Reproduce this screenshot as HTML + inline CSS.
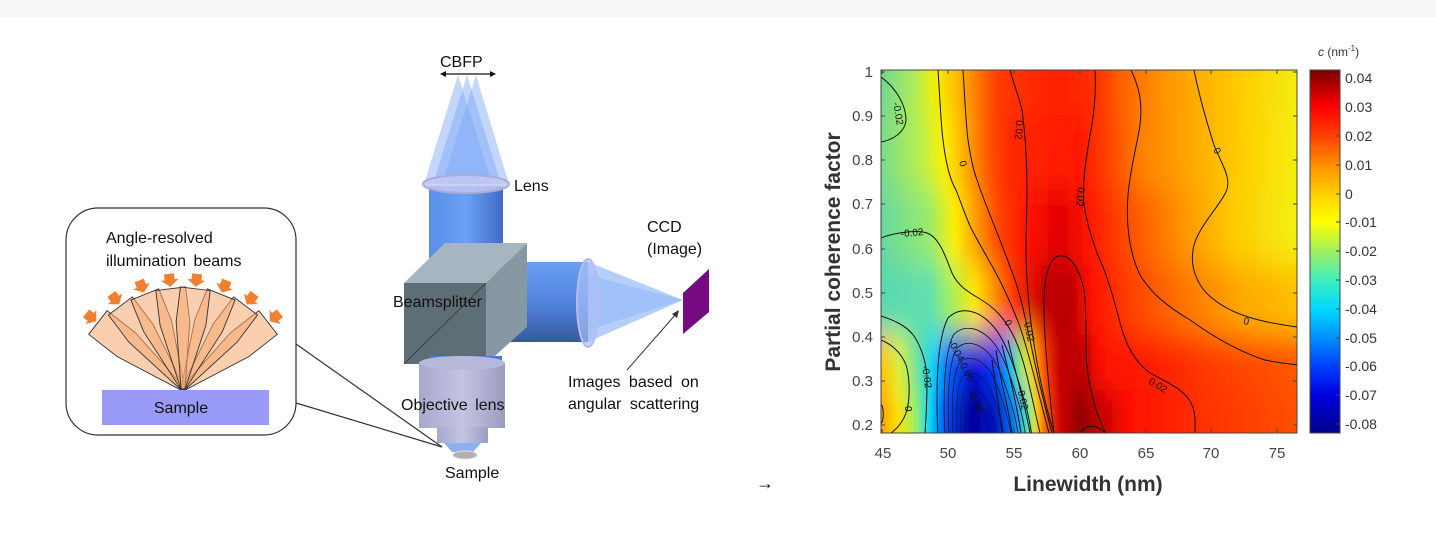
<!DOCTYPE html>
<html><head><meta charset="utf-8"><style>
html,body{margin:0;padding:0;background:#fff;width:1436px;height:542px;overflow:hidden}
svg{display:block;font-family:"Liberation Sans",Arial,sans-serif}
</style></head><body>
<svg width="1436" height="542" viewBox="0 0 1436 542" xmlns="http://www.w3.org/2000/svg">
<defs>
<linearGradient id="cb" x1="0" y1="0" x2="0" y2="1">
<stop offset="0" stop-color="#800000"/><stop offset=".022" stop-color="#960000"/><stop offset=".102" stop-color="#ff0000"/>
<stop offset=".182" stop-color="#ff4000"/><stop offset=".262" stop-color="#ff9000"/><stop offset=".342" stop-color="#ffd000"/>
<stop offset=".419" stop-color="#ffff00"/><stop offset=".499" stop-color="#a0f060"/><stop offset=".579" stop-color="#40f0c0"/>
<stop offset=".658" stop-color="#00d8ff"/><stop offset=".738" stop-color="#0090ff"/><stop offset=".815" stop-color="#0040ff"/>
<stop offset=".895" stop-color="#0000e0"/><stop offset="1" stop-color="#000088"/></linearGradient>
<linearGradient id="bA" gradientUnits="userSpaceOnUse" x1="881" y1="0" x2="1296" y2="0">
<stop offset="0" stop-color="#70d890"/><stop offset=".082" stop-color="#b0ec58"/><stop offset=".13" stop-color="#f4f000"/><stop offset=".178" stop-color="#ffc000"/><stop offset=".238" stop-color="#ff7000"/><stop offset=".287" stop-color="#ff3800"/><stop offset=".43" stop-color="#ff2000"/><stop offset=".516" stop-color="#ff3000"/><stop offset=".578" stop-color="#ff6000"/><stop offset=".67" stop-color="#ff9000"/><stop offset=".77" stop-color="#ffb000"/><stop offset=".867" stop-color="#ffcc00"/><stop offset="1" stop-color="#f4ec10"/></linearGradient>
<linearGradient id="bB" gradientUnits="userSpaceOnUse" x1="881" y1="0" x2="1296" y2="0">
<stop offset="0" stop-color="#78dc88"/><stop offset=".094" stop-color="#b8ee50"/><stop offset=".154" stop-color="#fff000"/><stop offset=".2" stop-color="#ffb000"/><stop offset=".263" stop-color="#ff5000"/><stop offset=".31" stop-color="#ff2800"/><stop offset=".48" stop-color="#ff1800"/><stop offset=".554" stop-color="#ff4800"/><stop offset=".626" stop-color="#ff8000"/><stop offset=".77" stop-color="#ffb000"/><stop offset=".89" stop-color="#ffd400"/><stop offset="1" stop-color="#f4ee10"/></linearGradient>
<linearGradient id="bC" gradientUnits="userSpaceOnUse" x1="881" y1="0" x2="1296" y2="0">
<stop offset="0" stop-color="#68d8a0"/><stop offset=".118" stop-color="#98ec68"/><stop offset=".178" stop-color="#fff000"/><stop offset=".226" stop-color="#ffa000"/><stop offset=".287" stop-color="#ff4000"/><stop offset=".36" stop-color="#ff1000"/><stop offset=".43" stop-color="#e00000"/><stop offset=".504" stop-color="#ff1800"/><stop offset=".6" stop-color="#ff5000"/><stop offset=".72" stop-color="#ff9000"/><stop offset=".84" stop-color="#ffc800"/><stop offset="1" stop-color="#f4f010"/></linearGradient>
<linearGradient id="bD" gradientUnits="userSpaceOnUse" x1="881" y1="0" x2="1296" y2="0">
<stop offset="0" stop-color="#58d8b0"/><stop offset=".118" stop-color="#60e0b0"/><stop offset=".166" stop-color="#a0f060"/><stop offset=".226" stop-color="#ffe800"/><stop offset=".275" stop-color="#ff9000"/><stop offset=".323" stop-color="#ff3000"/><stop offset=".395" stop-color="#c00000"/><stop offset=".455" stop-color="#b80000"/><stop offset=".504" stop-color="#ff1000"/><stop offset=".6" stop-color="#ff4000"/><stop offset=".72" stop-color="#ff7000"/><stop offset=".867" stop-color="#ffa800"/><stop offset="1" stop-color="#ffc000"/></linearGradient>
<linearGradient id="bE" gradientUnits="userSpaceOnUse" x1="881" y1="0" x2="1296" y2="0">
<stop offset="0" stop-color="#ffc800"/><stop offset=".046" stop-color="#d8f040"/><stop offset=".094" stop-color="#60e0b0"/><stop offset=".13" stop-color="#00d0ff"/><stop offset=".166" stop-color="#0060ff"/><stop offset=".226" stop-color="#0010d0"/><stop offset=".275" stop-color="#0040ff"/><stop offset=".311" stop-color="#00c0ff"/><stop offset=".34" stop-color="#b0f050"/><stop offset=".364" stop-color="#ffd000"/><stop offset=".395" stop-color="#ff4000"/><stop offset=".43" stop-color="#c00000"/><stop offset=".49" stop-color="#c00000"/><stop offset=".528" stop-color="#ff1000"/><stop offset=".67" stop-color="#ff2000"/><stop offset=".82" stop-color="#ff4000"/><stop offset="1" stop-color="#ff5800"/></linearGradient>
<linearGradient id="bF" gradientUnits="userSpaceOnUse" x1="881" y1="0" x2="1296" y2="0">
<stop offset="0" stop-color="#ffa000"/><stop offset=".039" stop-color="#ffe000"/><stop offset=".082" stop-color="#a0f060"/><stop offset=".118" stop-color="#00d8ff"/><stop offset=".154" stop-color="#0050ff"/><stop offset=".214" stop-color="#000098"/><stop offset=".275" stop-color="#0010c0"/><stop offset=".323" stop-color="#0080ff"/><stop offset=".354" stop-color="#40f0c0"/><stop offset=".373" stop-color="#ffe000"/><stop offset=".395" stop-color="#ff6000"/><stop offset=".43" stop-color="#d00000"/><stop offset=".48" stop-color="#900000"/><stop offset=".528" stop-color="#c00000"/><stop offset=".6" stop-color="#ff1000"/><stop offset=".77" stop-color="#ff3000"/><stop offset="1" stop-color="#ff5000"/></linearGradient>
<filter id="bl" x="-10%" y="-10%" width="120%" height="120%"><feGaussianBlur stdDeviation="3 16"/></filter>
<clipPath id="pc"><rect x="881" y="70" width="416" height="363"/></clipPath>
<linearGradient id="cylV" x1="0" y1="0" x2="1" y2="0"><stop offset="0" stop-color="#5a8ee8"/><stop offset=".5" stop-color="#6aa0f4"/><stop offset="1" stop-color="#3f6cc4"/></linearGradient>
<linearGradient id="cylH" x1="0" y1="0" x2="0" y2="1"><stop offset="0" stop-color="#6aa0f4"/><stop offset=".5" stop-color="#5284de"/><stop offset="1" stop-color="#34599e"/></linearGradient>
<linearGradient id="obj" x1="0" y1="0" x2="1" y2="0"><stop offset="0" stop-color="#a8a8cc"/><stop offset=".5" stop-color="#c4c4e2"/><stop offset="1" stop-color="#9c9cc0"/></linearGradient>
</defs>

<rect x="0" y="0" width="1436" height="17" fill="#f7f7f7"/>

<!-- ===== LEFT DIAGRAM ===== -->
<rect x="66" y="208" width="230" height="227" rx="32" fill="#fff" stroke="#333" stroke-width="1.2"/>
<line x1="296" y1="344" x2="442" y2="447" stroke="#333" stroke-width="1.2"/>
<line x1="296" y1="403" x2="442" y2="447" stroke="#333" stroke-width="1.2"/>
<text x="106" y="243" font-size="16" fill="#111">Angle-resolved</text>
<text x="106" y="266" font-size="16" fill="#111" word-spacing="3">illumination beams</text>
<g transform="translate(183 389)" stroke="#333" stroke-width="0.9" fill="#f5a870" fill-opacity="0.55">
<g transform="rotate(-52)"><polygon points="-15,-108 15,-108 15,-72 2,0 -2,0 -15,-72"/><polygon points="-5,-123 5,-123 5,-117 9,-117 0,-110 -9,-117 -5,-117" fill="#f08030" fill-opacity="1" stroke="none"/></g>
<g transform="rotate(52)"><polygon points="-15,-108 15,-108 15,-72 2,0 -2,0 -15,-72"/><polygon points="-5,-123 5,-123 5,-117 9,-117 0,-110 -9,-117 -5,-117" fill="#f08030" fill-opacity="1" stroke="none"/></g>
<g transform="rotate(-37)"><polygon points="-15,-104 15,-104 15,-70 2,0 -2,0 -15,-70"/><polygon points="-5,-119 5,-119 5,-113 9,-113 0,-106 -9,-113 -5,-113" fill="#f08030" fill-opacity="1" stroke="none"/></g>
<g transform="rotate(37)"><polygon points="-15,-104 15,-104 15,-70 2,0 -2,0 -15,-70"/><polygon points="-5,-119 5,-119 5,-113 9,-113 0,-106 -9,-113 -5,-113" fill="#f08030" fill-opacity="1" stroke="none"/></g>
<g transform="rotate(-22)"><polygon points="-15,-102 15,-102 15,-68 2,0 -2,0 -15,-68"/><polygon points="-5,-117 5,-117 5,-111 9,-111 0,-104 -9,-111 -5,-111" fill="#f08030" fill-opacity="1" stroke="none"/></g>
<g transform="rotate(22)"><polygon points="-15,-102 15,-102 15,-68 2,0 -2,0 -15,-68"/><polygon points="-5,-117 5,-117 5,-111 9,-111 0,-104 -9,-111 -5,-111" fill="#f08030" fill-opacity="1" stroke="none"/></g>
<g transform="rotate(-7)"><polygon points="-15,-101 15,-101 15,-66 2,0 -2,0 -15,-66"/><polygon points="-5,-116 5,-116 5,-110 9,-110 0,-103 -9,-110 -5,-110" fill="#f08030" fill-opacity="1" stroke="none"/></g>
<g transform="rotate(7)"><polygon points="-15,-101 15,-101 15,-66 2,0 -2,0 -15,-66"/><polygon points="-5,-116 5,-116 5,-110 9,-110 0,-103 -9,-110 -5,-110" fill="#f08030" fill-opacity="1" stroke="none"/></g>
</g>
<rect x="102" y="390" width="167" height="35" fill="#9a9af8"/>
<text x="181" y="413" font-size="16" text-anchor="middle" fill="#111">Sample</text>

<!-- cones top -->
<g fill="#7aa6f6" fill-opacity="0.45">
<polygon points="458,75 424,184 492,184"/><polygon points="467,75 433,184 501,184"/><polygon points="476,75 442,184 509,184"/>
</g>
<text x="440" y="67" font-size="16" fill="#111">CBFP</text>
<line x1="444" y1="74" x2="492" y2="74" stroke="#111" stroke-width="1.2"/>
<polygon points="440,74 446,71 446,77" fill="#111"/><polygon points="496,74 490,71 490,77" fill="#111"/>
<!-- vertical cylinder -->
<rect x="429" y="186" width="74" height="86" fill="url(#cylV)"/>
<ellipse cx="466" cy="184" rx="43" ry="9" fill="#c4c8f2" stroke="#a8acd8" stroke-width="2" fill-opacity="0.85"/>
<text x="514" y="191" font-size="16" fill="#111">Lens</text>
<!-- horizontal cylinder -->
<rect x="503" y="262" width="85" height="80" fill="url(#cylH)"/>
<polygon points="588,262 683,300 588,342" fill="#7aa6f6" fill-opacity="0.55"/>
<polygon points="588,275 683,300 588,330" fill="#8cb4fa" fill-opacity="0.5"/>
<ellipse cx="588" cy="303" rx="11" ry="44" fill="#a8c0f8" stroke="#b8bce8" stroke-width="2" fill-opacity="0.7"/>
<polygon points="683,293 709,269 709,312 683,334" fill="#760a80"/>
<text x="647" y="232" font-size="16" fill="#111">CCD</text>
<text x="647" y="254" font-size="16" fill="#111">(Image)</text>
<line x1="627" y1="370" x2="676" y2="314" stroke="#333" stroke-width="1"/>
<polygon points="679,310 672,314 677,318" fill="#333"/>
<text x="568" y="387" font-size="16" fill="#111" word-spacing="4">Images based on</text>
<text x="568" y="409" font-size="16" fill="#111" word-spacing="4">angular scattering</text>
<!-- cube -->
<polygon points="404,283 486,283 527,243 445,243" fill="#a6b6c0"/>
<polygon points="486,283 527,243 527,327 486,364" fill="#8898a2"/>
<rect x="404" y="283" width="82" height="81" fill="#5e6e76"/>
<line x1="404" y1="364" x2="486" y2="283" stroke="#333" stroke-width="0.8"/>
<text x="393" y="307" font-size="16" fill="#111">Beamsplitter</text>
<!-- objective -->
<rect x="430" y="356" width="72" height="12" fill="#4a7ad8"/>
<rect x="419" y="362" width="86" height="66" fill="url(#obj)"/>
<ellipse cx="462" cy="363" rx="43" ry="7" fill="#b8b8da"/>
<rect x="437" y="427" width="51" height="16" fill="url(#obj)"/>
<polygon points="444,443 481,443 473,452 452,452" fill="#8cb0f0"/>
<ellipse cx="465" cy="455" rx="12" ry="4" fill="#b0b0b0" stroke="#ddd"/>
<text x="401" y="410" font-size="16" fill="#111" word-spacing="3">Objective lens</text>
<text x="445" y="478" font-size="16" fill="#111">Sample</text>

<text x="756" y="489" font-size="18" fill="#111">→</text>

<!-- ===== CONTOUR PLOT ===== -->
<g clip-path="url(#pc)">
<g filter="url(#bl)">
<rect x="860" y="20" width="460" height="100" fill="url(#bA)"/>
<rect x="860" y="115" width="460" height="75" fill="url(#bB)"/>
<rect x="860" y="190" width="460" height="75" fill="url(#bC)"/>
<rect x="860" y="265" width="460" height="70" fill="url(#bD)"/>
<rect x="860" y="335" width="460" height="55" fill="url(#bE)"/>
<rect x="860" y="390" width="460" height="80" fill="url(#bF)"/>
</g>
<g fill="none" stroke="#111" stroke-width="1">
<path d="M881,77 C896,88 906,105 906,120 C905,132 893,140 881,142"/>
<path d="M881,238 C890,234 915,229 927,233 C940,238 946,258 952,273 C958,286 968,292 980,299 C995,308 1004,318 1012,333 C1024,355 1030,390 1040,433"/>
<path d="M938,70 C940,100 941,125 943,140 C946,165 950,180 956,190 C962,205 966,218 972,230 C980,245 986,255 992,266 C1000,280 1010,300 1020,327 C1028,350 1035,380 1049,433"/>
<path d="M963,70 C965,100 966,125 968,140 C971,160 974,172 977,180 C982,195 986,205 992,220 C998,235 1006,255 1015,280 C1022,300 1026,322 1030,340 C1036,370 1043,400 1052,433"/>
<path d="M1010,70 C1015,88 1020,100 1022,110 C1026,140 1027,170 1027,190 C1027,210 1026,230 1026,250 C1026,275 1029,310 1032,330 C1036,360 1042,395 1054,433"/>
<path d="M1054,433 C1050,400 1044,340 1044,305 C1044,280 1048,262 1056,257 C1066,252 1078,262 1084,290 C1088,320 1084,350 1088,375 C1091,395 1098,420 1106,433"/>
<path d="M1080,433 C1084,425 1096,423 1105,433"/>
<path d="M1095,70 C1096,90 1095,110 1090,135 C1086,160 1082,180 1084,205 C1087,225 1095,250 1103,267 C1110,285 1114,300 1118,315 C1124,340 1132,360 1150,373 C1168,383 1186,390 1192,405 C1196,415 1195,425 1195,433"/>
<path d="M1131,70 C1138,85 1143,100 1140,125 C1137,145 1130,170 1128,195 C1126,220 1128,250 1140,275 C1152,295 1170,308 1190,320 C1215,338 1240,352 1265,360 C1280,363 1290,364 1297,365"/>
<path d="M1194,70 C1199,95 1206,120 1214,145 C1222,165 1232,178 1226,192 C1218,208 1200,225 1194,245 C1189,265 1196,285 1212,298 C1232,315 1260,322 1297,327"/>
<path d="M881,316 C893,320 906,325 914,336 C922,348 927,365 927,380 C927,400 926,420 925,433"/>
<path d="M881,340 C891,344 901,352 906,365 C910,378 910,398 907,410 C904,420 898,428 891,433"/>
<path d="M881,404 C884,408 884,420 881,424"/>
<g transform="translate(988 436)">
<path id="lp" d="M-50,0 C-52,-40 -52,-95 -40,-118 C-28,-130 -10,-127 5,-110 C18,-95 26,-70 35,-40 C40,-25 42,-12 44,0"/>
<use href="#lp" transform="scale(.86)" vector-effect="non-scaling-stroke"/>
<use href="#lp" transform="translate(-2 0) scale(.74)"/>
<use href="#lp" transform="translate(-4 0) scale(.62)"/>
<use href="#lp" transform="translate(-6 0) scale(.5)"/>
<use href="#lp" transform="translate(-8 0) scale(.38)"/>
<use href="#lp" transform="translate(-10 0) scale(.26)"/>
</g>
<path d="M1002,433 C1000,410 995,385 992,360"/>
<path d="M1012,433 C1008,405 1000,380 996,350"/>
<path d="M1021,433 C1016,400 1008,370 1002,345"/>
<path d="M1030,433 C1024,400 1015,372 1008,340"/>
</g>
<g font-size="10" fill="#111">
<text transform="translate(893,103) rotate(80)">-0.02</text>
<text transform="translate(959,162) rotate(72)">0</text>
<text transform="translate(1016,120) rotate(92)">0.02</text>
<text transform="translate(1078,187) rotate(95)">0.02</text>
<text transform="translate(1213,150) rotate(60)">0</text>
<text transform="translate(901,237) rotate(-5)">-0.02</text>
<text transform="translate(1243,324) rotate(10)">0</text>
<text transform="translate(1148,383) rotate(32)">0.02</text>
<text transform="translate(1024,323) rotate(78)">0.02</text>
<text transform="translate(1004,322) rotate(60)">0</text>
<text transform="translate(948,342) rotate(62)">-0.04</text>
<text transform="translate(958,362) rotate(62)">-0.06</text>
<text transform="translate(968,392) rotate(66)">-0.08</text>
<text transform="translate(1017,388) rotate(78)">-0.02</text>
<text transform="translate(922,366) rotate(82)">-0.02</text>
<text transform="translate(905,406) rotate(90)">0</text>
</g>
</g>
<rect x="881" y="70" width="416" height="363" fill="none" stroke="#444" stroke-width="1"/>
<g stroke="#444" stroke-width="1">
<path d="M882,433v-4M948,433v-4M1014,433v-4M1080,433v-4M1146,433v-4M1211,433v-4M1277,433v-4"/>
<path d="M882,70v4M948,70v4M1014,70v4M1080,70v4M1146,70v4M1211,70v4M1277,70v4"/>
<path d="M881,72h4M881,116h4M881,160h4M881,204h4M881,249h4M881,293h4M881,337h4M881,381h4M881,425h4"/>
<path d="M1297,72h-4M1297,116h-4M1297,160h-4M1297,204h-4M1297,249h-4M1297,293h-4M1297,337h-4M1297,381h-4M1297,425h-4"/>
</g>
<g font-size="15" fill="#444" text-anchor="end">
<text x="873" y="77">1</text><text x="873" y="121">0.9</text><text x="873" y="165">0.8</text><text x="873" y="209">0.7</text>
<text x="873" y="254">0.6</text><text x="873" y="298">0.5</text><text x="873" y="342">0.4</text><text x="873" y="386">0.3</text><text x="873" y="430">0.2</text>
</g>
<g font-size="15" fill="#444" text-anchor="middle">
<text x="883" y="458">45</text><text x="948" y="458">50</text><text x="1014" y="458">55</text><text x="1080" y="458">60</text>
<text x="1146" y="458">65</text><text x="1211" y="458">70</text><text x="1277" y="458">75</text>
</g>
<text x="1088" y="491" font-size="21" font-weight="bold" fill="#333" text-anchor="middle">Linewidth (nm)</text>
<text transform="translate(840,252) rotate(-90)" font-size="21" font-weight="bold" fill="#333" text-anchor="middle">Partial coherence factor</text>

<rect x="1310" y="70" width="30" height="363" fill="url(#cb)" stroke="#444" stroke-width="1"/>
<g stroke="#444"><path d="M1340,78h-4M1340,107h-4M1340,136h-4M1340,165h-4M1340,194h-4M1340,222h-4M1340,251h-4M1340,280h-4M1340,309h-4M1340,338h-4M1340,366h-4M1340,395h-4M1340,424h-4"/></g>
<g font-size="14" fill="#333">
<text x="1345" y="83">0.04</text><text x="1345" y="112">0.03</text><text x="1345" y="141">0.02</text><text x="1345" y="170">0.01</text>
<text x="1345" y="199">0</text><text x="1345" y="227">-0.01</text><text x="1345" y="256">-0.02</text><text x="1345" y="285">-0.03</text>
<text x="1345" y="314">-0.04</text><text x="1345" y="343">-0.05</text><text x="1345" y="371">-0.06</text><text x="1345" y="400">-0.07</text><text x="1345" y="429">-0.08</text>
</g>
<text x="1318" y="56" font-size="12" fill="#333"><tspan font-style="italic">c</tspan> (nm<tspan font-size="8" dy="-5">-1</tspan><tspan dy="5">)</tspan></text>
</svg>
</body></html>
